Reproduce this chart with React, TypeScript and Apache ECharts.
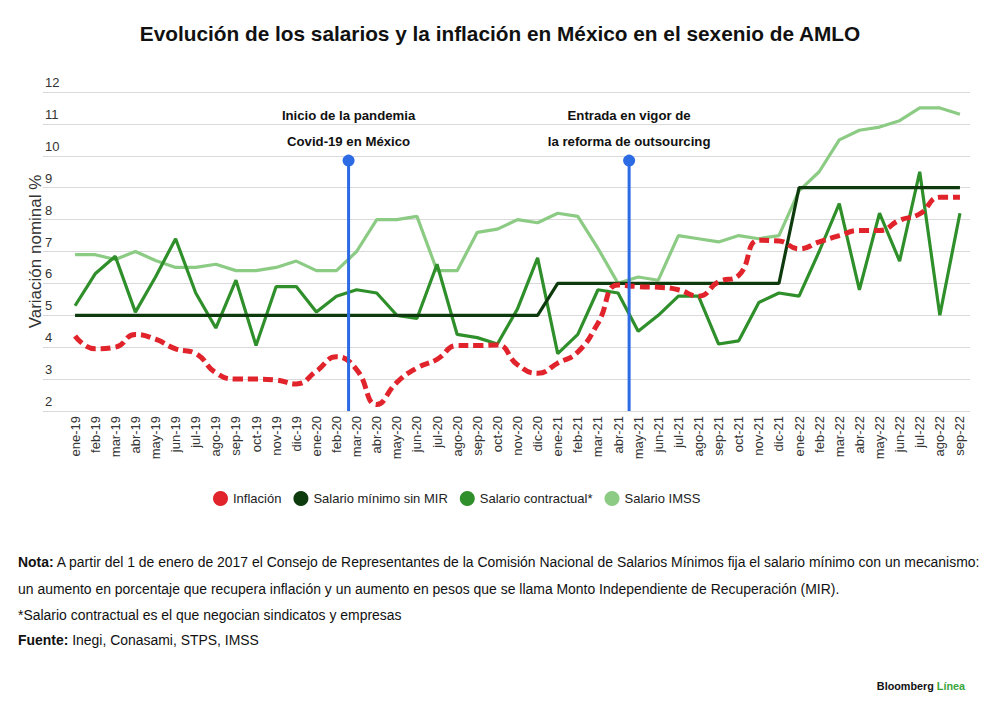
import React, { useEffect, useRef } from "react";
import * as echarts from "echarts";

const categories = [
  "ene-19", "feb-19", "mar-19", "abr-19", "may-19", "jun-19", "jul-19", "ago-19", "sep-19", "oct-19", "nov-19", "dic-19",
  "ene-20", "feb-20", "mar-20", "abr-20", "may-20", "jun-20", "jul-20", "ago-20", "sep-20", "oct-20", "nov-20", "dic-20",
  "ene-21", "feb-21", "mar-21", "abr-21", "may-21", "jun-21", "jul-21", "ago-21", "sep-21", "oct-21", "nov-21", "dic-21",
  "ene-22", "feb-22", "mar-22", "abr-22", "may-22", "jun-22", "jul-22", "ago-22", "sep-22",
];

const inflacion = [
  4.35, 3.95, 4.0, 4.4, 4.25, 3.95, 3.8, 3.2, 3.0, 3.0, 2.97, 2.85,
  3.25, 3.7, 3.3, 2.2, 2.9, 3.35, 3.62, 4.05, 4.05, 4.07, 3.45, 3.18,
  3.5, 3.85, 4.75, 5.95, 5.9, 5.88, 5.8, 5.6, 6.05, 6.25, 7.35, 7.33,
  7.08, 7.3, 7.5, 7.66, 7.66, 7.98, 8.18, 8.7, 8.7,
];

const salarioMinimo = [
  5, 5, 5, 5, 5, 5, 5, 5, 5, 5, 5, 5,
  5, 5, 5, 5, 5, 5, 5, 5, 5, 5, 5, 5,
  6, 6, 6, 6, 6, 6, 6, 6, 6, 6, 6, 6,
  9, 9, 9, 9, 9, 9, 9, 9, 9,
];

const salarioContractual = [
  5.3, 6.3, 6.85, 5.1, 6.2, 7.4, 5.7, 4.6, 6.1, 4.05, 5.9, 5.9,
  5.1, 5.6, 5.8, 5.7, 5.0, 4.9, 6.6, 4.4, 4.3, 4.1, 5.2, 6.8,
  3.8, 4.4, 5.8, 5.7, 4.5, 5.0, 5.6, 5.6, 4.1, 4.2, 5.4, 5.7,
  5.6, 7.0, 8.5, 5.8, 8.2, 6.7, 9.5, 5.0, 8.2,
];

const salarioIMSS = [
  6.9, 6.9, 6.75, 7.0, 6.72, 6.5, 6.5, 6.6, 6.4, 6.4, 6.5, 6.7,
  6.4, 6.4, 7.0, 8.0, 8.0, 8.1, 6.4, 6.4, 7.6, 7.7, 8.0, 7.9,
  8.2, 8.1, 7.1, 6.0, 6.2, 6.1, 7.5, 7.4, 7.3, 7.5, 7.4, 7.5,
  8.9, 9.5, 10.5, 10.8, 10.9, 11.1, 11.5, 11.5, 11.3,
];

const yTicks = [2, 3, 4, 5, 6, 7, 8, 9, 10, 11, 12];

const eventPositions = [13.6, 27.55];
const eventLabels = [
  "Inicio de la pandemia\nCovid-19 en México",
  "Entrada en vigor de\nla reforma de outsourcing",
];
const eventTop = 9.85;

const seriesNames = ["Inflación", "Salario mínimo sin MIR", "Salario contractual*", "Salario IMSS"];
const seriesColors = ["#e1232b", "#0e3b0e", "#2f8f2a", "#8ccb84"];

const notes = [
  "{b|Nota:} A partir del 1 de enero de 2017 el Consejo de Representantes de la Comisión Nacional de Salarios Mínimos fija el salario mínimo con un mecanismo:",
  "un aumento en porcentaje que recupera inflación y un aumento en pesos que se llama Monto Independiente de Recuperación (MIR).",
  "*Salario contractual es el que negocian sindicatos y empresas",
  "{b|Fuente:} Inegi, Conasami, STPS, IMSS",
];

const FONT = "'Liberation Sans', Arial, Helvetica, sans-serif";

export default function App() {
  const ref = useRef<HTMLDivElement>(null);

  useEffect(() => {
    if (!ref.current) return;
    const chart = echarts.init(ref.current, undefined, { renderer: "svg" });

    const mainSeries = [inflacion, salarioMinimo, salarioContractual, salarioIMSS].map((data, i) => ({
      name: seriesNames[i],
      type: "line",
      xAxisIndex: 0,
      yAxisIndex: 0,
      data,
      smooth: i === 0 ? 0.5 : false,
      showSymbol: false,
      symbol: "circle",
      z: [6, 5, 4, 3][i],
      color: seriesColors[i],
      itemStyle: { color: seriesColors[i] },
      lineStyle: {
        color: seriesColors[i],
        width: i === 0 ? 5 : 3.2,
        type: i === 0 ? [10, 5] : "solid",
        cap: "butt",
      },
      emphasis: { disabled: true },
    }));

    const eventSeries = eventPositions.map((x, i) => ({
      name: "evento" + i,
      type: "line",
      xAxisIndex: 1,
      yAxisIndex: 0,
      z: 8,
      showSymbol: true,
      color: "#2d6be4",
      lineStyle: { color: "#2d6be4", width: 3 },
      itemStyle: { color: "#2d6be4" },
      emphasis: { disabled: true },
      data: [
        { value: [x, 2], symbol: "none" },
        {
          value: [x, eventTop],
          symbol: "circle",
          symbolSize: 12,
          label: {
            show: true,
            position: "top",
            distance: 0,
            formatter: eventLabels[i],
            fontFamily: FONT,
            fontWeight: "bold",
            fontSize: 13.2,
            lineHeight: 26,
            color: "#111",
          },
        },
      ],
    }));

    const option = {
      animation: false,
      backgroundColor: "#ffffff",
      title: {
        text: "Evolución de los salarios y la inflación en México en el sexenio de AMLO",
        left: "center",
        top: 18,
        textStyle: { fontFamily: FONT, fontWeight: "bold", fontSize: 20.8, color: "#111" },
      },
      legend: {
        data: seriesNames,
        left: 208,
        top: 486,
        icon: "circle",
        itemWidth: 15,
        itemHeight: 15,
        itemGap: 12,
        itemStyle: { borderWidth: 0 },
        textStyle: { fontFamily: FONT, fontSize: 13, color: "#222" },
      },
      grid: [
        { left: 65, right: 30, top: 92, bottom: 305, containLabel: false },
        { left: 43, right: 30, top: 92, bottom: 305, containLabel: false },
      ],
      xAxis: [
        {
          type: "category",
          gridIndex: 0,
          data: categories,
          boundaryGap: true,
          axisLine: { show: false },
          axisTick: { show: false },
          axisLabel: {
            rotate: 90,
            margin: 5,
            interval: 0,
            fontFamily: FONT,
            fontSize: 13,
            color: "#333",
          },
        },
        { type: "value", gridIndex: 0, min: -0.5, max: categories.length - 0.5, show: false },
        { type: "value", gridIndex: 1, min: 0, max: 1, show: false },
      ],
      yAxis: [
        {
          type: "value",
          gridIndex: 0,
          min: yTicks[0],
          max: yTicks[yTicks.length - 1],
          interval: 1,
          axisLine: { show: false },
          axisTick: { show: false },
          axisLabel: { show: false },
          splitLine: { show: false },
          name: "Variación nominal %",
          nameLocation: "middle",
          nameGap: 21,
          nameTextStyle: { fontFamily: FONT, fontSize: 17, color: "#333" },
        },
        {
          type: "value",
          gridIndex: 1,
          min: yTicks[0],
          max: yTicks[yTicks.length - 1],
          interval: 1,
          axisLine: { show: false },
          axisTick: { show: false },
          axisLabel: {
            inside: true,
            margin: 2,
            verticalAlign: "bottom",
            padding: [0, 0, 3, 0],
            fontFamily: FONT,
            fontSize: 13,
            color: "#333",
          },
          splitLine: { show: true, lineStyle: { color: "#d9d9d9", width: 1 } },
        },
      ],
      graphic: [
        ...notes.map((t, i) => ({
          type: "text",
          x: 18,
          y: [562, 589, 615, 640][i],
          style: {
            text: t,
            fill: "#111",
            fontFamily: FONT,
            fontSize: 13.95,
            verticalAlign: "middle",
            align: "left",
            rich: {
              b: { fontFamily: FONT, fontSize: 13.95, fontWeight: "bold", fill: "#111" },
            },
          },
        })),
        {
          type: "text",
          x: 965,
          y: 686,
          style: {
            text: "{a|Bloomberg} {g|Línea}",
            align: "right",
            verticalAlign: "middle",
            fontFamily: FONT,
            fontSize: 10.8,
            rich: {
              a: { fontFamily: FONT, fontSize: 10.8, fontWeight: "bold", fill: "#111" },
              g: { fontFamily: FONT, fontSize: 10.8, fontWeight: "bold", fill: "#3aa53a" },
            },
          },
        },
      ],
      series: [...mainSeries, ...eventSeries],
    };

    chart.setOption(option as any);
    return () => chart.dispose();
  }, []);

  return (
    <div
      ref={ref}
      style={{ position: "fixed", left: 0, top: 0, width: 1000, height: 716, background: "#fff" }}
    />
  );
}
